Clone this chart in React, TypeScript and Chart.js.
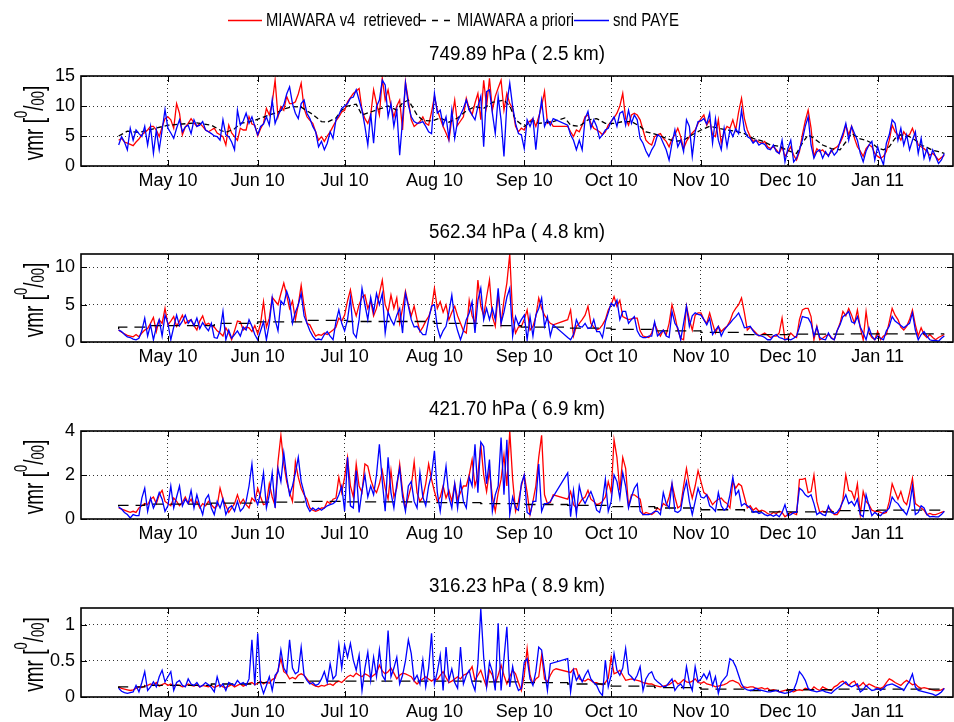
import React, { useEffect, useRef } from 'react';
import { Chart, registerables } from 'chart.js';

Chart.register(...registerables);

const FONT = "'Liberation Sans', Arial, Helvetica, sans-serif";

// x axis: days after 1 Apr 2010
const X_MIN = 0;
const X_MAX = 301;
const FIRST_DAY = 13; // 14 Apr 2010
const MONTH_TICK_DAYS = [30, 61, 91, 122, 153, 183, 214, 244, 275];
const MONTH_TICK_LABELS = ['May 10', 'Jun 10', 'Jul 10', 'Aug 10', 'Sep 10', 'Oct 10', 'Nov 10', 'Dec 10', 'Jan 11'];

const LEGEND_LABELS = ['MIAWARA v4  retrieved', 'MIAWARA a priori', 'snd PAYE'];
const TITLES = ['749.89 hPa ( 2.5 km)', '562.34 hPa ( 4.8 km)', '421.70 hPa ( 6.9 km)', '316.23 hPa ( 8.9 km)'];

const Y_TICKS_1 = [0, 5, 10, 15];
const Y_TICKS_2 = [0, 5, 10];
const Y_TICKS_3 = [0, 2, 4];
const Y_TICKS_4 = [0, 0.5, 1];
const Y_MAX = [15, 11.8, 4, 1.23];

// ---------- 749.89 hPa ----------
const RED_1 = [
  4.3, 4.6, 4.0, 3.8, 3.6, 3.4, 4.0, 4.5, 5.2, 5.6,
  6.0, 6.6, 6.6, 6.0, 4.9, 6.5, 7.9, 8.2, 7.7, 6.3,
  10.4, 8.8, 5.2, 6.5, 7.1, 7.9, 7.2, 6.6, 7.1, 6.6,
  6.0, 5.7, 6.0, 6.3, 5.5, 5.2, 4.9, 3.5, 6.8, 5.5,
  4.9, 4.3, 6.3, 6.0, 6.0, 8.2, 7.0, 6.8, 5.0, 6.2,
  7.1, 9.6, 8.5, 10.5, 14.3, 8.2, 9.9, 9.3, 11.6, 10.4,
  10.4, 10.7, 12.0, 13.8, 9.6, 8.2, 7.6, 7.1, 5.7, 4.3,
  4.9, 4.1, 5.0, 5.7, 6.6, 7.5, 8.2, 9.0, 9.3, 10.7,
  11.4, 12.1, 12.5, 12.9, 9.3, 7.9, 7.1, 8.5, 12.7, 10.4,
  8.5, 14.6, 11.0, 12.7, 10.0, 8.2, 10.0, 11.0, 6.0, 14.0,
  11.0, 7.7, 6.6, 7.0, 7.4, 8.2, 7.1, 6.8, 9.0, 11.6,
  9.3, 7.9, 6.6, 5.5, 4.3, 7.9, 11.0, 6.8, 7.5, 8.2,
  11.3, 9.6, 8.5, 10.5, 12.1, 7.7, 14.3, 9.9, 14.6, 9.3,
  11.6, 13.0, 14.3, 9.3, 12.1, 10.4, 9.6, 6.6, 5.7, 6.3,
  6.0, 7.1, 7.5, 7.9, 6.6, 8.2, 10.0, 12.4, 7.1, 7.4,
  6.6, null, null, null, null, 6.6, 5.7, 4.9, 6.0, 5.7,
  6.8, 8.2, 8.5, 7.1, 6.3, 6.0, 5.7, 5.2, 5.7, 6.8,
  7.4, 8.0, 8.8, 10.0, 12.1, 7.9, 6.8, 8.5, 8.8, 8.5,
  7.7, 6.0, 4.3, 3.8, 3.5, 4.9, 5.2, 5.4, 4.6, 4.1,
  3.2, 4.5, 5.2, 6.3, 4.9, 2.9, 4.1, 4.9, 5.5, 6.0,
  7.1, 7.9, 8.5, 6.8, 7.7, 5.2, 4.9, 7.7, 3.8, 5.7,
  6.6, 6.3, 7.7, 6.0, 9.0, 11.3, 7.9, 6.0, 4.9, 4.1,
  4.3, 4.0, 3.8, 4.1, 3.2, 2.9, 3.2, 2.7, 2.1, 3.2,
  1.6, 2.4, 3.2, 1.8, 1.0, 2.4, 5.2, 7.5, 9.3, 6.3,
  1.6, 2.9, 2.4, 2.7, 2.1, 1.8, 2.4, 2.9, 3.2, 3.8,
  4.9, 6.8, 5.2, 6.6, 4.6, 3.2, 2.5, 1.6, 2.9, 3.5,
  3.2, 2.1, 1.6, 1.3, 1.6, 2.4, 4.3, 6.8, 5.7, 5.2,
  4.3, 5.7, 5.0, 5.2, 6.3, 4.9, 3.5, 3.2, 2.9, 2.4,
  1.8, 2.1, 1.6, 1.0, 1.4, 1.8,
];
const BLUE_1 = [
  3.5, 4.9, 4.0, 2.7, 6.3, 4.3, 6.0, 5.4, 4.9, 6.6,
  3.5, 6.6, 2.1, 6.0, 2.7, 6.0, 9.4, 6.3, 5.5, 4.6,
  6.3, 7.7, 5.7, 6.5, 6.8, 5.4, 7.7, 6.6, 6.8, 7.4,
  6.0, 5.7, 5.4, 5.0, 4.9, 4.3, 7.7, 5.2, 4.9, 4.0,
  2.7, 9.3, 6.8, 7.5, 8.8, 7.1, 8.2, 6.6, 5.2, 6.6,
  7.0, 8.2, 6.8, 11.0, 7.1, 8.5, 9.3, 10.2, 12.0, 13.2,
  10.4, 8.8, 7.9, 10.4, 11.0, 8.8, 7.9, 6.6, 5.7, 3.2,
  4.1, 2.7, 3.8, 5.7, 4.6, 7.7, 8.5, 9.6, 10.0, 10.4,
  11.3, 11.5, 12.7, 11.0, 9.3, 6.6, 3.5, 8.8, 3.8, 9.9,
  11.0, 14.3, 13.5, 8.2, 10.4, 6.6, 9.3, 1.8, 7.7, 13.8,
  10.2, 8.2, 7.4, 7.1, 7.2, 7.4, 6.6, 5.7, 5.4, 12.1,
  8.8, 9.3, 6.8, 8.2, 4.6, 9.3, 4.6, 7.5, 8.5, 9.6,
  11.0, 9.3, 8.5, 7.7, 9.9, 11.6, 3.2, 12.4, 12.7, 8.8,
  5.4, 11.6, 7.7, 1.6, 10.4, 13.8, 9.9, 7.1, 5.4, 5.2,
  2.9, 7.7, 6.6, 7.9, 2.7, 7.7, 11.0, 6.6, 7.7, 6.8,
  7.9, null, null, null, null, 6.8, 5.2, 4.3, 2.7, 4.3,
  2.7, 7.9, 9.1, 6.3, 7.7, 6.6, 4.6, 5.2, 6.0, 6.3,
  7.4, 8.2, 6.6, 8.8, 9.1, 6.8, 9.3, 7.1, 8.5, 7.7,
  4.6, 3.8, 2.5, 1.6, 2.7, 3.5, 5.2, 4.9, 3.8, 2.7,
  1.0, 3.8, 6.0, 3.2, 4.3, 2.4, 7.7, 6.6, 1.6, 5.7,
  7.4, 7.5, 7.9, 7.0, 8.8, 3.8, 7.9, 4.3, 2.7, 6.3,
  3.2, 6.0, 4.9, 6.2, 5.4, 9.3, 6.0, 4.9, 4.6, 3.8,
  4.3, 3.5, 3.8, 3.6, 2.9, 2.7, 3.5, 2.4, 2.1, 4.3,
  0.7, 2.9, 4.3, 0.7, 1.3, 2.7, 4.3, 6.6, 8.2, 3.5,
  1.3, 2.4, 2.7, 1.3, 2.4, 1.6, 2.7, 1.8, 2.4, 4.1,
  5.4, 7.1, 4.3, 6.6, 5.4, 4.3, 2.1, 0.7, 2.5, 3.5,
  4.1, 1.0, 3.2, 1.5, 0.2, 3.8, 5.2, 7.7, 7.1, 4.3,
  6.3, 3.5, 5.2, 2.7, 4.3, 5.7, 2.1, 4.6, 1.3, 2.9,
  1.0, 2.7, 1.6, 0.4, 1.0, 2.1,
];
const PRIOR_DAYS_1 = [13, 16, 20, 25, 30, 35, 40, 45, 48, 50, 53, 55, 60, 65, 68, 70, 73, 76, 80, 83, 85, 88, 90, 92, 95, 97, 100, 103, 106, 109, 111, 113, 116, 118, 121, 124, 127, 130, 133, 136, 139, 142, 146, 148, 150, 153, 156, 158, 163, 167, 169, 172, 175, 178, 181, 184, 187, 190, 193, 195, 199, 202, 205, 208, 211, 214, 217, 220, 223, 226, 229, 232, 235, 238, 241, 243, 245, 247, 249, 251, 253, 256, 259, 262, 264, 266, 269, 271, 273, 275, 277, 279, 281, 283, 286, 288, 290, 292, 294, 296, 298];
const PRIOR_VALS_1 = [5.0, 5.8, 5.6, 6.2, 6.8, 7.0, 7.2, 6.8, 6.0, 5.6, 6.2, 7.1, 7.6, 8.5, 9.0, 9.5, 9.9, 9.8, 8.6, 7.4, 7.3, 8.0, 9.3, 10.0, 10.3, 8.5, 9.0, 9.5, 10.0, 9.3, 10.5, 11.0, 8.5, 7.6, 7.5, 8.0, 7.3, 8.0, 9.2, 9.9, 9.6, 10.6, 11.0, 10.0, 7.7, 6.6, 7.6, 7.1, 7.4, 8.0, 6.8, 6.6, 7.7, 7.9, 7.1, 7.1, 7.4, 7.4, 6.6, 5.7, 5.2, 4.6, 4.1, 4.3, 5.2, 6.0, 6.6, 6.3, 6.0, 5.8, 5.4, 4.6, 4.2, 3.5, 3.3, 2.8, 2.4, 2.1, 3.8, 5.2, 4.6, 3.5, 2.9, 2.7, 4.0, 5.4, 4.5, 4.3, 3.8, 3.0, 2.7, 3.2, 4.6, 5.2, 4.9, 4.3, 3.5, 3.1, 2.6, 2.4, 2.1];

// ---------- 562.34 hPa ----------
const RED_2 = [
  1.6, 1.3, 1.1, 0.9, 0.8, 0.7, 1.0, 0.7, 1.2, 1.6,
  1.8, 2.5, 3.3, 1.4, 3.0, 2.5, 4.5, 2.3, 2.8, 3.4,
  2.1, 2.8, 3.6, 2.5, 2.8, 3.0, 2.2, 1.6, 2.8, 3.5,
  2.3, 2.5, 2.2, 2.0, 1.5, 1.2, 0.8, 1.9, 1.2, 0.3,
  1.5, 2.8, 2.7, 1.6, 2.0, 1.9, 1.4, 2.2, 1.1, 2.5,
  5.4, 2.0, 3.2, 6.0, 5.5, 5.0, 6.5, 7.9, 6.3, 4.5,
  5.5, 3.0, 5.0, 7.6, 4.8, 2.5, 2.3, 1.5, 0.8, 1.0,
  0.9, 1.2, 1.0, 1.3, 1.6, 2.0, 3.2, 2.8, 3.6, 5.5,
  7.0, 4.8, 3.5, 5.0, 6.0, 6.3, 4.5, 5.5, 3.5, 4.5,
  6.5, 8.3, 5.0, 4.0, 6.3, 4.5, 5.9, 2.5, 4.5, 6.8,
  5.0, 3.5, 4.8, 3.0, 1.4, 2.0, 2.8, 3.4, 4.5, 7.2,
  4.5, 5.4, 4.0, 5.0, 3.0, 4.0, 4.8, 3.5, 2.5, 1.5,
  1.2, 5.6, 3.5, 2.5, 8.3, 4.8, 3.5, 6.0, 8.3, 3.4,
  2.1, 6.5, 2.5, 5.6, 7.9, 11.8, 3.4, 1.2, 2.0, 2.1,
  3.0, 4.3, 1.6, 2.1, 3.4, 5.9, 4.5, 3.6, 3.0, 2.5,
  2.3, null, null, null, null, 3.0, 4.3, 0.8, 2.1, 2.5,
  3.0, 3.6, 4.8, 2.5, 2.0, 1.6, 1.8, 2.3, 3.0, 4.3,
  5.0, 6.1, 4.8, 5.6, 3.4, 3.2, 3.0, 3.1, 3.2, 3.2,
  1.5, 0.8, 0.7, 0.6, 1.2, 2.5, 1.5, 0.8, 1.6, 1.0,
  2.5, 5.0, 3.5, 1.6, 0.5, 0.3, 4.8, 3.0, 1.6, 3.6,
  3.9, 3.9, 3.0, 2.5, 3.9, 2.5, 1.2, 2.1, 1.4, 1.8,
  2.1, 2.8, 3.9, 4.5, 5.0, 5.9, 3.9, 1.6, 2.0, 1.6,
  1.2, 0.8, 1.0, 1.2, 0.9, 0.6, 0.8, 0.8, 1.2, 3.2,
  0.3, 0.5, 1.2, 0.8, 0.6, 3.0, 4.3, 4.5, 4.5, 3.4,
  0.3, 2.1, 0.3, 0.5, 0.8, 1.0, 0.6, 0.3, 1.5, 2.5,
  4.1, 3.5, 4.5, 3.6, 2.5, 4.3, 1.9, 0.3, 4.1, 1.2,
  0.6, 0.3, 1.4, 0.3, 0.8, 1.0, 2.7, 4.5, 3.6, 3.0,
  2.0, 1.6, 2.1, 3.0, 4.3, 2.3, 0.8, 1.9, 1.0, 0.6,
  1.0, 0.6, 0.3, 0.6, 0.8, 1.0,
];
const BLUE_2 = [
  1.6, 1.4, 1.0, 0.7, 0.6, 0.4, 0.3, 0.5, 1.5, 3.2,
  0.8, 2.3, 0.3, 2.0, 3.0, 0.8, 3.6, 2.5, 0.3, 2.0,
  3.6, 2.2, 2.8, 3.6, 2.5, 3.0, 2.2, 3.2, 1.8, 2.6,
  2.0, 1.5, 2.5, 0.6, 0.5, 1.5, 4.1, 0.3, 1.6, 0.5,
  1.0, 1.5, 0.8, 2.0, 1.6, 3.0, 2.1, 1.0, 0.3, 1.5,
  2.7, 0.3, 2.5, 5.9, 3.0, 1.5, 5.5, 5.0, 6.8, 5.6,
  2.5, 4.0, 5.0, 6.5, 3.5, 2.5, 1.5, 0.8, 0.3, 0.4,
  0.3, 1.0, 1.4, 0.8, 0.3, 2.7, 4.3, 2.5, 1.5, 3.0,
  5.9, 1.2, 0.6, 3.0, 7.2, 5.0, 3.0, 6.0, 4.0, 6.5,
  5.0, 6.5, 1.2, 4.0, 3.0, 2.3, 3.6, 4.5, 1.2, 6.5,
  4.8, 3.0, 2.0, 2.1, 1.5, 1.0, 1.0, 3.0, 4.8, 5.0,
  2.0, 0.6, 1.5, 2.1, 4.0, 6.3, 3.0, 1.5, 0.3, 1.5,
  3.0, 3.9, 5.4, 1.2, 5.6, 7.2, 3.0, 4.5, 3.0, 4.5,
  3.0, 7.2, 2.5, 4.0, 6.0, 7.2, 0.8, 3.4, 2.3, 3.0,
  3.6, 0.3, 3.4, 0.8, 3.6, 4.5, 5.9, 2.1, 3.4, 0.8,
  2.3, null, null, null, null, 0.6, 0.3, 1.0, 3.0, 2.1,
  2.0, 2.5, 1.8, 1.9, 3.0, 1.4, 1.4, 0.6, 2.7, 3.9,
  5.2, 4.8, 5.6, 3.0, 4.1, 4.1, 2.5, 3.0, 3.4, 1.5,
  0.8, 0.6, 0.6, 0.8, 0.8, 2.7, 0.8, 1.2, 1.6, 0.8,
  0.6, 4.1, 2.5, 1.9, 0.3, 2.5, 4.8, 2.1, 3.5, 3.9,
  3.7, 3.6, 3.0, 2.3, 3.2, 1.0, 1.6, 2.1, 0.8, 1.6,
  2.1, 2.5, 3.0, 3.4, 3.9, 3.0, 1.9, 2.0, 2.1, 1.5,
  1.0, 0.9, 0.8, 0.6, 0.3, 0.3, 0.8, 1.0, 0.6, 0.5,
  0.3, 0.4, 0.3, 0.5, 0.8, 2.0, 3.4, 3.3, 3.2, 2.5,
  0.8, 2.0, 0.6, 0.4, 0.3, 1.2, 0.5, 0.3, 1.5, 2.3,
  3.4, 3.7, 4.1, 2.7, 2.5, 3.4, 2.0, 1.2, 0.3, 1.9,
  0.8, 0.3, 0.8, 0.5, 0.3, 1.5, 2.1, 3.4, 2.8, 2.5,
  2.2, 1.9, 2.2, 2.5, 3.9, 1.6, 0.3, 1.0, 1.4, 0.8,
  0.3, 0.2, 0.2, 0.1, 0.5, 0.8,
];
const PRIOR_DAYS_2 = [13, 22, 46, 61, 77, 92, 122, 138, 152, 168, 183, 198, 214, 229, 244, 264, 275, 298];
const PRIOR_VALS_2 = [1.7, 2.0, 2.2, 2.5, 2.7, 2.9, 2.75, 2.5, 2.2, 2.0, 1.85, 1.7, 1.5, 1.3, 1.0, 1.05, 1.1, 1.1];

// ---------- 421.70 hPa ----------
const RED_3 = [
  0.5, 0.45, 0.4, 0.35, 0.3, 0.35, 0.3, 0.5, 0.6, 0.7,
  0.65, 0.9, 1.0, 0.7, 1.1, 1.3, 0.8, 0.7, 0.6, 0.95,
  0.8, 0.6, 0.75, 1.0, 0.7, 0.9, 0.6, 0.8, 0.5, 0.7,
  0.6, 0.8, 0.65, 0.5, 0.6, 1.4, 0.9, 0.6, 0.3, 0.5,
  0.7, 1.1, 0.7, 0.9, 0.65, 0.5, 0.95, 0.8, 1.4, 1.0,
  0.65, 0.7, 1.6, 1.0, 0.6, 2.6, 3.8, 2.5, 1.7, 1.2,
  0.8, 2.6, 1.9, 1.4, 1.1, 0.9, 0.5, 0.4, 0.35, 0.4,
  0.5, 0.5, 0.8, 0.7, 0.9, 0.95, 1.9, 1.2, 1.9, 2.8,
  1.5, 1.0, 2.5, 1.5, 1.2, 2.5, 2.4, 1.8, 1.4, 1.2,
  1.6, 2.2, 1.4, 0.9, 2.2, 1.0, 1.4, 2.5, 1.25, 0.5,
  1.0, 1.5, 2.6, 1.2, 0.8, 1.0, 1.6, 2.5, 1.8, 1.25,
  0.8, 1.0, 1.5, 0.95, 1.3, 0.8, 1.6, 0.9, 1.2, 1.5,
  1.5, 2.0, 2.7, 1.5, 2.0, 3.4, 2.0, 1.25, 2.2, 1.0,
  0.35, 1.2, 1.8, 2.9, 1.5, 4.0, 1.8, 0.35, 0.8, 1.5,
  2.0, 1.2, 0.2, 0.8, 1.5, 2.8, 3.8, 1.1, 0.7, 0.75,
  1.1, null, null, null, null, 0.9, 1.25, 0.65, 0.5, 0.7,
  0.9, 1.0, 1.3, 0.9, 0.8, 0.65, 0.7, 0.8, 1.0, 1.7,
  1.2, 3.6, 2.8, 1.3, 2.8, 2.3, 0.57, 1.1, 1.1, 1.0,
  0.9, 0.2, 0.3, 0.25, 0.2, 0.3, 0.5, 0.4, 0.7, 0.6,
  1.0, 1.6, 1.0, 0.5, 0.6, 1.5, 2.3, 1.5, 0.95, 1.5,
  2.2, 1.7, 1.2, 1.1, 0.9, 0.65, 0.8, 0.9, 0.95, 0.8,
  0.7, 0.5, 1.7, 1.4, 1.6, 1.5, 1.0, 0.5, 0.6, 0.4,
  0.5, 0.35, 0.4, 0.35, 0.25, 0.2, 0.3, 0.25, 0.35, 0.3,
  0.1, 0.2, 0.3, 0.25, 0.2, 1.8, 1.8, 1.85, 1.2, 1.25,
  2.0, 0.8, 0.3, 0.35, 0.3, 0.5, 0.4, 0.2, 0.2, 0.4,
  0.9, 2.0, 1.3, 1.25, 0.9, 1.6, 0.2, 1.25, 0.8, 0.65,
  0.4, 0.35, 0.35, 0.3, 0.25, 0.3, 0.8, 1.6, 1.25, 0.9,
  1.25, 0.8, 0.65, 1.2, 1.85, 0.7, 0.6, 0.5, 0.4, 0.2,
  0.25, 0.2, 0.2, 0.25, 0.3, 0.35,
];
const BLUE_3 = [
  0.55, 0.45, 0.3, 0.2, 0.05, 0.2, 0.15, 0.15, 0.95, 1.4,
  0.35, 0.95, 0.5, 0.8, 1.2, 0.9, 0.35, 0.6, 1.5, 0.5,
  1.0, 1.5, 0.6, 0.9, 0.7, 1.3, 0.5, 1.1, 0.6, 0.2,
  0.9, 1.1, 0.5, 0.2, 0.8, 0.5, 0.9, 0.2, 0.5, 0.6,
  0.35, 0.8, 0.35, 0.5, 0.8, 1.5, 2.5, 1.0, 0.65, 1.2,
  2.1, 0.5, 1.1, 2.1, 0.5, 2.3, 1.7, 3.0, 1.9, 1.1,
  1.5, 2.1, 2.8, 1.7, 1.2, 0.6, 0.35, 0.5, 0.4, 0.5,
  0.4, 0.5, 0.6, 0.65, 0.7, 0.8, 1.1, 1.5, 0.35, 2.8,
  0.6, 0.5, 2.2, 0.3, 1.3, 2.0, 1.0, 1.5, 1.1, 2.0,
  3.4, 1.7, 0.35, 2.8, 1.2, 0.5, 1.6, 2.3, 1.0, 0.35,
  1.5, 1.7, 0.8, 0.5, 2.1, 1.0, 0.6, 1.5, 2.0, 3.1,
  1.2, 0.35, 1.4, 2.4, 1.0, 0.5, 1.6, 0.5, 1.7, 0.8,
  0.5, 1.9, 1.5, 3.4, 1.2, 3.5, 3.3, 1.6, 2.7, 0.35,
  1.1, 1.5, 3.7, 1.1, 3.6, 0.2, 1.0, 0.5, 0.4, 1.6,
  2.0, 0.3, 0.2, 0.8, 0.8, 2.5, 0.35, 0.7, 0.7, 0.8,
  null, null, null, null, null, 2.1, 0.1, 1.3, 0.2, 1.5,
  0.95, 0.7, 1.0, 1.25, 0.9, 0.4, 0.3, 0.8, 1.8, 0.35,
  0.8, 2.0, 1.7, 0.95, 2.1, 1.5, 0.5, 1.0, 1.4, 1.6,
  0.35, 0.2, 0.2, 0.2, 0.25, 0.35, 0.35, 0.2, 1.2, 0.7,
  0.5, 1.6, 0.35, 0.3, 0.4, 1.2, 1.7, 0.8, 0.2, 0.8,
  1.4, 1.0, 0.95, 1.1, 0.6, 0.5, 0.35, 1.2, 0.6, 0.4,
  0.5, 1.1, 1.9, 1.1, 1.3, 0.6, 0.7, 0.6, 0.5, 0.3,
  0.35, 0.25, 0.3, 0.2, 0.15, 0.2, 0.12, 0.2, 0.1, 0.3,
  0.65, 0.15, 0.2, 0.3, 0.3, 1.4, 1.3, 1.1, 1.0, 1.1,
  0.7, 0.2, 0.3, 0.2, 0.15, 0.6, 0.3, 0.25, 0.3, 0.5,
  0.8, 1.1, 0.7, 0.8, 0.6, 0.9, 0.2, 0.1, 1.1, 0.6,
  0.15, 0.3, 0.2, 0.15, 0.3, 0.35, 0.5, 1.0, 0.8, 0.7,
  0.5, 0.35, 0.2, 0.6, 1.5, 0.2, 0.3, 0.6, 0.5, 0.2,
  0.1, 0.12, 0.1, 0.1, 0.2, 0.35,
];
const PRIOR_DAYS_3 = [13, 22, 45, 61, 77, 92, 122, 138, 153, 168, 183, 198, 214, 229, 244, 260, 275, 298];
const PRIOR_VALS_3 = [0.57, 0.62, 0.68, 0.72, 0.77, 0.8, 0.78, 0.74, 0.7, 0.66, 0.62, 0.56, 0.5, 0.42, 0.32, 0.32, 0.38, 0.4];

// ---------- 316.23 hPa ----------
const RED_4 = [
  0.14, 0.12, 0.11, 0.1, 0.09, 0.1, 0.12, 0.14, 0.13, 0.15,
  0.16, 0.18, 0.16, 0.2, 0.15, 0.17, 0.19, 0.16, 0.18, 0.15,
  0.17, 0.16, 0.14, 0.15, 0.18, 0.16, 0.15, 0.17, 0.14, 0.16,
  0.15, 0.14, 0.16, 0.13, 0.15, 0.17, 0.14, 0.13, 0.15, 0.17,
  0.14, 0.16, 0.18, 0.15, 0.17, 0.19, 0.2, 0.17, 0.19, 0.22,
  0.18, 0.21, 0.19, 0.24, 0.26, 0.37, 0.53, 0.35, 0.32, 0.25,
  0.27, 0.25, 0.3, 0.32, 0.3, 0.25, 0.2, 0.17, 0.15, 0.14,
  0.16, 0.15, 0.17, 0.18, 0.16, 0.2, 0.22, 0.2, 0.24, 0.28,
  0.3, 0.28, 0.33, 0.3, 0.28, 0.32, 0.3, 0.27, 0.3, 0.33,
  0.44, 0.36, 0.32, 0.35, 0.4, 0.33, 0.25, 0.3, 0.33, 0.32,
  0.3, 0.28, 0.22, 0.18, 0.22, 0.25, 0.28, 0.25, 0.22, 0.25,
  0.24, 0.3, 0.35, 0.27, 0.2, 0.22, 0.25, 0.28, 0.25, 0.3,
  0.32, 0.35, 0.42, 0.23, 0.3, 0.37, 0.25, 0.14, 0.37, 0.3,
  0.18, 0.3, 0.44, 0.3, 0.18, 0.28, 0.37, 0.32, 0.2, 0.09,
  0.3, 0.67, 0.3, 0.18, 0.25, 0.28, 0.58, 0.25, 0.21, 0.3,
  0.37, 0.39, null, null, null, null, 0.34, 0.39, 0.39, 0.25,
  0.23, 0.22, 0.25, 0.23, 0.2, 0.2, 0.18, 0.17, 0.2, 0.26,
  0.55, 0.32, 0.34, 0.37, 0.3, 0.23, 0.24, 0.25, 0.24, 0.23,
  0.22, 0.2, 0.19, 0.18, 0.18, 0.16, 0.15, 0.14, 0.15, 0.16,
  0.17, 0.2, 0.23, 0.18, 0.2, 0.24, 0.21, 0.2, 0.22, 0.25,
  0.2, 0.19, 0.21, 0.18, 0.17, 0.16, 0.14, 0.15, 0.16, 0.17,
  0.19, 0.22, 0.23, 0.21, 0.19, 0.13, 0.14, 0.13, 0.14, 0.14,
  0.12, 0.12, 0.13, 0.11, 0.12, 0.09, 0.1, 0.09, 0.07, 0.08,
  0.09, 0.1, 0.08, 0.07, 0.09, 0.1, 0.09, 0.12, 0.11, 0.09,
  0.14, 0.11, 0.09, 0.14, 0.12, 0.1, 0.09, 0.14, 0.16, 0.2,
  0.22, 0.18, 0.16, 0.2, 0.22, 0.14, 0.16, 0.2, 0.15, 0.18,
  0.16, 0.14, 0.13, 0.12, 0.14, 0.2, 0.25, 0.23, 0.2, 0.18,
  0.16, 0.2, 0.23, 0.2, 0.17, 0.18, 0.14, 0.12, 0.13, 0.12,
  0.11, 0.1, 0.09, 0.09, 0.1, 0.12,
];
const BLUE_4 = [
  0.12, 0.08, 0.06, 0.05, 0.06, 0.07, 0.16, 0.07, 0.2, 0.35,
  0.09, 0.14, 0.21, 0.14, 0.28, 0.37, 0.21, 0.28, 0.35, 0.09,
  0.2, 0.23, 0.16, 0.14, 0.25, 0.18, 0.16, 0.2, 0.14, 0.16,
  0.2, 0.17, 0.13, 0.07, 0.28, 0.14, 0.18, 0.09, 0.2, 0.18,
  0.16, 0.23, 0.18, 0.2, 0.16, 0.25, 0.79, 0.16, 0.88, 0.18,
  0.05, 0.16, 0.28, 0.09, 0.3, 0.35, 0.65, 0.4, 0.33, 0.79,
  0.4, 0.32, 0.35, 0.69, 0.3, 0.23, 0.18, 0.2, 0.16, 0.18,
  0.25, 0.35, 0.2, 0.46, 0.25, 0.3, 0.72, 0.4, 0.72, 0.55,
  0.74, 0.51, 0.37, 0.58, 0.09, 0.4, 0.62, 0.23, 0.55, 0.28,
  0.65, 0.3, 0.23, 0.92, 0.28, 0.4, 0.55, 0.18, 0.3, 0.5,
  0.79, 0.6, 0.23, 0.3, 0.18, 0.51, 0.14, 0.4, 0.88, 0.18,
  0.35, 0.58, 0.09, 0.69, 0.23, 0.39, 0.2, 0.12, 0.69, 0.18,
  0.3, 0.37, 0.2, 0.09, 0.46, 1.22, 0.55, 0.14, 0.48, 0.35,
  0.09, 1.02, 0.09, 0.53, 0.97, 0.14, 0.42, 0.2, 0.09, 0.12,
  0.48, 0.53, 0.25, 0.16, 0.35, 0.69, 0.65, 0.37, 0.09, 0.46,
  null, null, null, null, null, 0.53, 0.07, 0.37, 0.23, 0.3,
  0.21, 0.3, 0.37, 0.25, 0.2, 0.16, 0.07, 0.02, 0.51, 0.14,
  0.3, 0.6, 0.37, 0.3, 0.4, 0.67, 0.32, 0.28, 0.23, 0.3,
  0.42, 0.09, 0.25, 0.32, 0.35, 0.25, 0.21, 0.18, 0.14, 0.15,
  0.2, 0.25, 0.09, 0.15, 0.18, 0.12, 0.42, 0.2, 0.09, 0.42,
  0.21, 0.25, 0.32, 0.25, 0.35, 0.16, 0.28, 0.05, 0.2, 0.25,
  0.3, 0.53, 0.5, 0.42, 0.3, 0.18, 0.12, 0.1, 0.09, 0.1,
  0.12, 0.1, 0.09, 0.08, 0.07, 0.07, 0.08, 0.09, 0.07, 0.06,
  0.05, 0.06, 0.07, 0.1, 0.2, 0.35, 0.3, 0.23, 0.12, 0.09,
  0.08, 0.07, 0.08, 0.09, 0.07, 0.06, 0.05, 0.09, 0.12, 0.15,
  0.18, 0.21, 0.16, 0.14, 0.16, 0.18, 0.07, 0.1, 0.16, 0.12,
  0.09, 0.1, 0.12, 0.09, 0.12, 0.16, 0.17, 0.18, 0.16, 0.14,
  0.12, 0.09, 0.16, 0.22, 0.32, 0.14, 0.09, 0.08, 0.07, 0.06,
  0.05, 0.04, 0.02, 0.04, 0.07, 0.12,
];
const PRIOR_DAYS_4 = [13, 22, 45, 61, 77, 92, 122, 138, 153, 168, 183, 198, 214, 229, 244, 260, 275, 298];
const PRIOR_VALS_4 = [0.12, 0.14, 0.16, 0.18, 0.2, 0.22, 0.22, 0.22, 0.21, 0.2, 0.18, 0.15, 0.13, 0.11, 0.09, 0.1, 0.11, 0.11];

// ---------- helpers ----------
const daily = (vals: (number | null)[]) => vals.map((v, i) => ({ x: FIRST_DAY + i, y: v }));
const knots = (days: number[], vals: number[]) => days.map((d, i) => ({ x: d, y: vals[i] }));

function fittedText(ctx: CanvasRenderingContext2D, text: string, x: number, y: number, width: number, font: string, align: CanvasTextAlign) {
  ctx.save();
  ctx.font = font;
  const w = ctx.measureText(text).width;
  ctx.translate(x, y);
  ctx.scale(width / w, 1);
  ctx.textAlign = align;
  ctx.textBaseline = 'middle';
  ctx.fillStyle = '#000';
  ctx.fillText(text, 0, 0);
  ctx.restore();
}

function drawYLabel(ctx: CanvasRenderingContext2D, cx: number, cy: number) {
  const big = '19px ' + FONT;
  const small = '13px ' + FONT;
  const parts = [
    { t: 'vmr [', f: big, dy: 0 },
    { t: '0', f: small, dy: -11 },
    { t: '/', f: big, dy: 0 },
    { t: '00', f: small, dy: 1 },
    { t: ']', f: big, dy: 0 },
  ];
  ctx.save();
  let total = 0;
  const widths = parts.map((p) => { ctx.font = p.f; const w = ctx.measureText(p.t).width; total += w; return w; });
  ctx.translate(cx, cy);
  ctx.rotate(-Math.PI / 2);
  ctx.scale(1, 1.45);
  ctx.fillStyle = '#000';
  ctx.textBaseline = 'alphabetic';
  ctx.textAlign = 'left';
  let x = -total / 2;
  parts.forEach((p, i) => { ctx.font = p.f; ctx.fillText(p.t, x, p.dy); x += widths[i]; });
  ctx.restore();
}

function drawLegend(ctx: CanvasRenderingContext2D) {
  const y = 20.5;
  const f = '19px ' + FONT;
  ctx.save();
  ctx.lineWidth = 1.5;
  ctx.strokeStyle = '#ff0000';
  ctx.beginPath(); ctx.moveTo(228, y); ctx.lineTo(262, y); ctx.stroke();
  fittedText(ctx, LEGEND_LABELS[0], 266, y, 155, f, 'left');
  ctx.strokeStyle = '#000';
  ctx.setLineDash([6, 6]);
  ctx.beginPath(); ctx.moveTo(420, y); ctx.lineTo(454, y); ctx.stroke();
  ctx.setLineDash([]);
  fittedText(ctx, LEGEND_LABELS[1], 457, y, 117, f, 'left');
  ctx.strokeStyle = '#0000ff';
  ctx.beginPath(); ctx.moveTo(574, y); ctx.lineTo(609, y); ctx.stroke();
  fittedText(ctx, LEGEND_LABELS[2], 613, y, 66, f, 'left');
  ctx.restore();
}

const framePlugin = {
  id: 'frame',
  afterDraw(chart: any, _args: any, opts: any) {
    const ctx: CanvasRenderingContext2D = chart.ctx;
    const a = chart.chartArea;
    const xs = chart.scales.x;
    const ys = chart.scales.y;
    ctx.save();
    ctx.setLineDash([]);
    ctx.strokeStyle = '#000';
    ctx.lineWidth = 1;
    ctx.beginPath();
    MONTH_TICK_DAYS.forEach((d) => {
      const px = Math.round(xs.getPixelForValue(d)) + 0.5;
      ctx.moveTo(px, a.bottom); ctx.lineTo(px, a.bottom - 6);
      ctx.moveTo(px, a.top); ctx.lineTo(px, a.top + 6);
    });
    (opts.yTicks as number[]).forEach((v) => {
      const py = Math.round(ys.getPixelForValue(v)) + 0.5;
      ctx.moveTo(a.left, py); ctx.lineTo(a.left + 6, py);
      ctx.moveTo(a.right, py); ctx.lineTo(a.right - 6, py);
    });
    ctx.stroke();
    ctx.lineWidth = 1.6;
    ctx.strokeRect(a.left, a.top, a.right - a.left, a.bottom - a.top);
    fittedText(ctx, opts.title, (a.left + a.right) / 2, a.top - 21.5, 176, '20px ' + FONT, 'center');
    drawYLabel(ctx, 43, (a.top + a.bottom) / 2 + 2);
    if (opts.legend) drawLegend(ctx);
    ctx.restore();
  },
};

type PanelProps = {
  top: number; height: number; padTop: number; xAxisH: number;
  title: string; red: (number | null)[]; blue: (number | null)[];
  priorDays: number[]; priorVals: number[]; priorStepped: boolean; priorDash: number[];
  yMax: number; yTicks: number[]; legend: boolean;
};

function Panel(p: PanelProps) {
  const ref = useRef<HTMLCanvasElement | null>(null);
  useEffect(() => {
    if (!ref.current) return;
    const tickFont = { family: FONT, size: 18 };
    const chart = new Chart(ref.current, {
      type: 'line',
      data: {
        datasets: [
          { label: LEGEND_LABELS[2], data: daily(p.blue), borderColor: '#0000ff', borderWidth: 1.3, pointRadius: 0, spanGaps: true, tension: 0, order: 1 },
          { label: LEGEND_LABELS[1], data: knots(p.priorDays, p.priorVals), borderColor: '#000000', borderWidth: 1.3, borderDash: p.priorDash, pointRadius: 0, stepped: p.priorStepped ? 'after' : false, tension: 0, order: 2 },
          { label: LEGEND_LABELS[0], data: daily(p.red), borderColor: '#ff0000', borderWidth: 1.3, pointRadius: 0, spanGaps: true, tension: 0, order: 3 },
        ] as any,
      },
      options: {
        animation: false,
        responsive: false,
        maintainAspectRatio: false,
        devicePixelRatio: 1,
        events: [],
        layout: { padding: { top: p.padTop, right: 1, left: 0, bottom: 0 } },
        plugins: {
          legend: { display: false },
          tooltip: { enabled: false },
          title: { display: false },
          frame: { title: p.title, yTicks: p.yTicks, legend: p.legend },
        } as any,
        scales: {
          x: {
            type: 'linear', min: X_MIN, max: X_MAX,
            afterBuildTicks: (axis: any) => { axis.ticks = MONTH_TICK_DAYS.map((v) => ({ value: v })); },
            afterFit: (axis: any) => { axis.height = p.xAxisH; },
            ticks: {
              autoSkip: false, maxRotation: 0, minRotation: 0, padding: 4, color: '#000', font: tickFont,
              callback: (v: any) => { const i = MONTH_TICK_DAYS.indexOf(Number(v)); return i >= 0 ? MONTH_TICK_LABELS[i] : ''; },
            },
            grid: { color: '#333', lineWidth: 1, drawTicks: false },
            border: { display: false, dash: [1, 3] },
          },
          y: {
            type: 'linear', min: 0, max: p.yMax,
            afterBuildTicks: (axis: any) => { axis.ticks = p.yTicks.map((v) => ({ value: v })); },
            afterFit: (axis: any) => { axis.width = 81; },
            ticks: { padding: 6, color: '#000', font: tickFont, callback: (v: any) => String(v) },
            grid: { color: '#333', lineWidth: 1, drawTicks: false },
            border: { display: false, dash: [1, 3] },
          },
        } as any,
      },
      plugins: [framePlugin as any],
    });
    return () => chart.destroy();
  }, []);
  return (
    <canvas
      ref={ref}
      width={954}
      height={p.height}
      style={{ position: 'absolute', left: 0, top: p.top, width: 954, height: p.height, display: 'block' }}
    />
  );
}

export default function App() {
  return (
    <div style={{ position: 'absolute', left: 0, top: 0, width: 954, height: 722, background: '#fff', overflow: 'hidden' }}>
      <Panel top={0} height={195} padTop={76} xAxisH={29} title={TITLES[0]} red={RED_1} blue={BLUE_1}
        priorDays={PRIOR_DAYS_1} priorVals={PRIOR_VALS_1} priorStepped={false} priorDash={[5, 3]}
        yMax={Y_MAX[0]} yTicks={Y_TICKS_1} legend={true} />
      <Panel top={195} height={175} padTop={59} xAxisH={28} title={TITLES[1]} red={RED_2} blue={BLUE_2}
        priorDays={PRIOR_DAYS_2} priorVals={PRIOR_VALS_2} priorStepped={true} priorDash={[11, 7]}
        yMax={Y_MAX[1]} yTicks={Y_TICKS_2} legend={false} />
      <Panel top={370} height={175} padTop={61} xAxisH={26} title={TITLES[2]} red={RED_3} blue={BLUE_3}
        priorDays={PRIOR_DAYS_3} priorVals={PRIOR_VALS_3} priorStepped={true} priorDash={[11, 7]}
        yMax={Y_MAX[2]} yTicks={Y_TICKS_3} legend={false} />
      <Panel top={545} height={177} padTop={63} xAxisH={25} title={TITLES[3]} red={RED_4} blue={BLUE_4}
        priorDays={PRIOR_DAYS_4} priorVals={PRIOR_VALS_4} priorStepped={true} priorDash={[11, 7]}
        yMax={Y_MAX[3]} yTicks={Y_TICKS_4} legend={false} />
    </div>
  );
}
